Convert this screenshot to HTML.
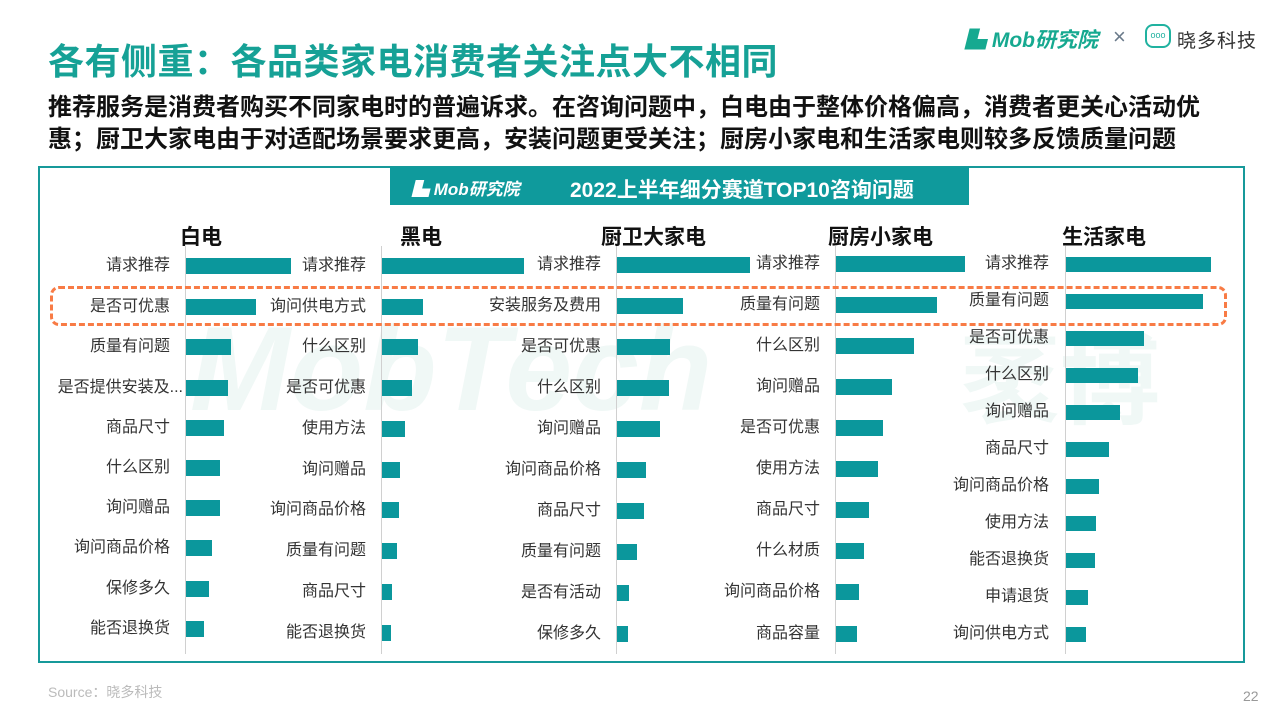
<!DOCTYPE html>
<html><head><meta charset="utf-8"><style>
*{margin:0;padding:0;box-sizing:border-box}
body{width:1280px;height:720px;background:#fff;position:relative;overflow:hidden;font-family:"Liberation Sans","Noto Sans CJK SC",sans-serif}
.a{position:absolute}
.t{left:48px;top:38px;font-size:36px;font-weight:bold;color:#16a196;letter-spacing:0.5px;line-height:48px}
.s{left:48px;font-size:24px;font-weight:bold;color:#111;white-space:nowrap;line-height:30px}
.frame{left:38px;top:166px;width:1207px;height:497px;border:2px solid #16999a}
.hdr{left:390px;top:167px;width:579px;height:38px;background:#0f9a9c;color:#fff;font-weight:bold;font-size:21px}
.ct{font-size:21px;font-weight:bold;color:#111}
.ax{width:1px;background:#d0d0d0}
.b{height:16px;background:#0b979c}
.l{font-size:16px;color:#333;text-align:right;width:170px;white-space:nowrap;line-height:18px}
.dash{left:50px;top:286px;width:1177px;height:40px;border:3px dashed #f87b45;border-radius:9px}
.wm{font-size:120px;font-weight:bold;font-style:italic;color:#f0f8f6;white-space:nowrap}
</style></head><body>
<div class="a wm" style="left:190px;top:300px">MobTech</div>
<div class="a wm" style="left:960px;top:300px;font-style:normal;font-size:100px">袤博</div>
<div class="a t">各有侧重：各品类家电消费者关注点大不相同</div>
<div class="a s" style="top:93px">推荐服务是消费者购买不同家电时的普遍诉求。在咨询问题中，白电由于整体价格偏高，消费者更关心活动优</div>
<div class="a s" style="top:125px">惠；厨卫大家电由于对适配场景要求更高，安装问题更受关注；厨房小家电和生活家电则较多反馈质量问题</div>
<div class="a" style="left:965px;top:24px;font-size:21px;font-weight:bold;font-style:italic;color:#16a990">▙ Mob研究院</div>
<div class="a" style="left:1113px;top:24px;font-size:22px;color:#6a7a8a">×</div>
<div class="a" style="left:1145px;top:24px;width:26px;height:24px;border:2px solid #20b2a0;border-radius:8px;font-size:9px;color:#20b2a0;text-align:center;line-height:19px">ooo</div>
<div class="a" style="left:1177px;top:26px;font-size:19px;color:#333;letter-spacing:1px">晓多科技</div>
<div class="a frame"></div>
<div class="a hdr"><span style="position:absolute;left:22px;top:8px;font-style:italic;font-size:17px">▙ Mob研究院</span><span style="position:absolute;left:180px;top:7px">2022上半年细分赛道TOP10咨询问题</span></div>
<div class="a ct" style="left:180px;top:221px">白电</div>
<div class="a ct" style="left:400px;top:221px">黑电</div>
<div class="a ct" style="left:601px;top:221px">厨卫大家电</div>
<div class="a ct" style="left:828px;top:221px">厨房小家电</div>
<div class="a ct" style="left:1062px;top:221px">生活家电</div>

<div class="a ax" style="left:185px;top:246px;height:408px"></div>
<div class="a ax" style="left:381px;top:246px;height:408px"></div>
<div class="a ax" style="left:616px;top:246px;height:408px"></div>
<div class="a ax" style="left:835px;top:246px;height:408px"></div>
<div class="a ax" style="left:1065px;top:246px;height:408px"></div>

<!-- 白电 -->
<div class="a l" style="left:0;top:257px">请求推荐</div><div class="a b" style="left:186px;top:258px;width:105px"></div>
<div class="a l" style="left:0;top:298px">是否可优惠</div><div class="a b" style="left:186px;top:299px;width:70px"></div>
<div class="a l" style="left:0;top:338px">质量有问题</div><div class="a b" style="left:186px;top:339px;width:45px"></div>
<div class="a l" style="left:13px;top:379px">是否提供安装及...</div><div class="a b" style="left:186px;top:380px;width:42px"></div>
<div class="a l" style="left:0;top:419px">商品尺寸</div><div class="a b" style="left:186px;top:420px;width:38px"></div>
<div class="a l" style="left:0;top:459px">什么区别</div><div class="a b" style="left:186px;top:460px;width:34px"></div>
<div class="a l" style="left:0;top:499px">询问赠品</div><div class="a b" style="left:186px;top:500px;width:34px"></div>
<div class="a l" style="left:0;top:539px">询问商品价格</div><div class="a b" style="left:186px;top:540px;width:26px"></div>
<div class="a l" style="left:0;top:580px">保修多久</div><div class="a b" style="left:186px;top:581px;width:23px"></div>
<div class="a l" style="left:0;top:620px">能否退换货</div><div class="a b" style="left:186px;top:621px;width:18px"></div>
<!-- 黑电 -->
<div class="a l" style="left:196px;top:257px">请求推荐</div><div class="a b" style="left:382px;top:258px;width:142px"></div>
<div class="a l" style="left:196px;top:298px">询问供电方式</div><div class="a b" style="left:382px;top:299px;width:41px"></div>
<div class="a l" style="left:196px;top:338px">什么区别</div><div class="a b" style="left:382px;top:339px;width:36px"></div>
<div class="a l" style="left:196px;top:379px">是否可优惠</div><div class="a b" style="left:382px;top:380px;width:30px"></div>
<div class="a l" style="left:196px;top:420px">使用方法</div><div class="a b" style="left:382px;top:421px;width:23px"></div>
<div class="a l" style="left:196px;top:461px">询问赠品</div><div class="a b" style="left:382px;top:462px;width:18px"></div>
<div class="a l" style="left:196px;top:501px">询问商品价格</div><div class="a b" style="left:382px;top:502px;width:17px"></div>
<div class="a l" style="left:196px;top:542px">质量有问题</div><div class="a b" style="left:382px;top:543px;width:15px"></div>
<div class="a l" style="left:196px;top:583px">商品尺寸</div><div class="a b" style="left:382px;top:584px;width:10px"></div>
<div class="a l" style="left:196px;top:624px">能否退换货</div><div class="a b" style="left:382px;top:625px;width:9px"></div>
<!-- 厨卫大家电 -->
<div class="a l" style="left:431px;top:256px">请求推荐</div><div class="a b" style="left:617px;top:257px;width:133px"></div>
<div class="a l" style="left:431px;top:297px">安装服务及费用</div><div class="a b" style="left:617px;top:298px;width:66px"></div>
<div class="a l" style="left:431px;top:338px">是否可优惠</div><div class="a b" style="left:617px;top:339px;width:53px"></div>
<div class="a l" style="left:431px;top:379px">什么区别</div><div class="a b" style="left:617px;top:380px;width:52px"></div>
<div class="a l" style="left:431px;top:420px">询问赠品</div><div class="a b" style="left:617px;top:421px;width:43px"></div>
<div class="a l" style="left:431px;top:461px">询问商品价格</div><div class="a b" style="left:617px;top:462px;width:29px"></div>
<div class="a l" style="left:431px;top:502px">商品尺寸</div><div class="a b" style="left:617px;top:503px;width:27px"></div>
<div class="a l" style="left:431px;top:543px">质量有问题</div><div class="a b" style="left:617px;top:544px;width:20px"></div>
<div class="a l" style="left:431px;top:584px">是否有活动</div><div class="a b" style="left:617px;top:585px;width:12px"></div>
<div class="a l" style="left:431px;top:625px">保修多久</div><div class="a b" style="left:617px;top:626px;width:11px"></div>
<!-- 厨房小家电 -->
<div class="a l" style="left:650px;top:255px">请求推荐</div><div class="a b" style="left:836px;top:256px;width:129px"></div>
<div class="a l" style="left:650px;top:296px">质量有问题</div><div class="a b" style="left:836px;top:297px;width:101px"></div>
<div class="a l" style="left:650px;top:337px">什么区别</div><div class="a b" style="left:836px;top:338px;width:78px"></div>
<div class="a l" style="left:650px;top:378px">询问赠品</div><div class="a b" style="left:836px;top:379px;width:56px"></div>
<div class="a l" style="left:650px;top:419px">是否可优惠</div><div class="a b" style="left:836px;top:420px;width:47px"></div>
<div class="a l" style="left:650px;top:460px">使用方法</div><div class="a b" style="left:836px;top:461px;width:42px"></div>
<div class="a l" style="left:650px;top:501px">商品尺寸</div><div class="a b" style="left:836px;top:502px;width:33px"></div>
<div class="a l" style="left:650px;top:542px">什么材质</div><div class="a b" style="left:836px;top:543px;width:28px"></div>
<div class="a l" style="left:650px;top:583px">询问商品价格</div><div class="a b" style="left:836px;top:584px;width:23px"></div>
<div class="a l" style="left:650px;top:625px">商品容量</div><div class="a b" style="left:836px;top:626px;width:21px"></div>
<!-- 生活家电 -->
<div class="a l" style="left:879px;top:255px">请求推荐</div><div class="a b" style="left:1066px;top:257px;width:145px;height:15px"></div>
<div class="a l" style="left:879px;top:292px">质量有问题</div><div class="a b" style="left:1066px;top:294px;width:137px;height:15px"></div>
<div class="a l" style="left:879px;top:329px">是否可优惠</div><div class="a b" style="left:1066px;top:331px;width:78px;height:15px"></div>
<div class="a l" style="left:879px;top:366px">什么区别</div><div class="a b" style="left:1066px;top:368px;width:72px;height:15px"></div>
<div class="a l" style="left:879px;top:403px">询问赠品</div><div class="a b" style="left:1066px;top:405px;width:54px;height:15px"></div>
<div class="a l" style="left:879px;top:440px">商品尺寸</div><div class="a b" style="left:1066px;top:442px;width:43px;height:15px"></div>
<div class="a l" style="left:879px;top:477px">询问商品价格</div><div class="a b" style="left:1066px;top:479px;width:33px;height:15px"></div>
<div class="a l" style="left:879px;top:514px">使用方法</div><div class="a b" style="left:1066px;top:516px;width:30px;height:15px"></div>
<div class="a l" style="left:879px;top:551px">能否退换货</div><div class="a b" style="left:1066px;top:553px;width:29px;height:15px"></div>
<div class="a l" style="left:879px;top:588px">申请退货</div><div class="a b" style="left:1066px;top:590px;width:22px;height:15px"></div>
<div class="a l" style="left:879px;top:625px">询问供电方式</div><div class="a b" style="left:1066px;top:627px;width:20px;height:15px"></div>

<div class="a dash"></div>
<div class="a" style="left:48px;top:682px;font-size:14px;color:#bbb">Source：晓多科技</div>
<div class="a" style="left:1243px;top:688px;font-size:14px;color:#999">22</div>
</body></html>
